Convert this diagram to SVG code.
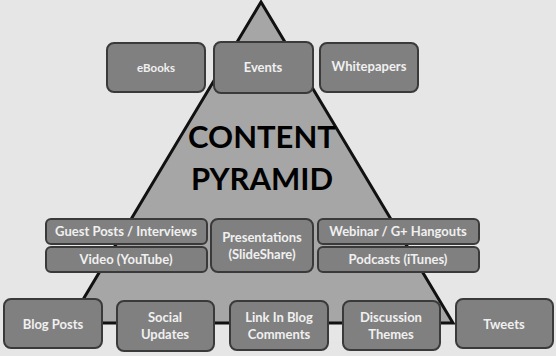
<svg xmlns="http://www.w3.org/2000/svg" width="556" height="356" viewBox="0 0 556 356">
<style>
.bx{fill:#808080;stroke:#3a3a3a;stroke-width:2}
.t{font-family:Lato,"Open Sans","Liberation Sans",sans-serif;font-weight:bold;fill:#f0f0f0;text-anchor:middle}
.s12{font-size:13px}
.s11{font-size:11.5px}
.big{font-family:Lato,"Open Sans","Liberation Sans",sans-serif;font-weight:bold;font-size:31px;fill:#000;text-anchor:middle}
</style>
<rect width="556" height="356" fill="#e6e6e6"/>
<g id="pyramid">
<polygon points="261,2 69,323 453,323" fill="#a6a6a6" stroke="#111" stroke-width="3" stroke-linejoin="miter"/>
<text class="big" x="262" y="148">CONTENT</text>
<text class="big" x="262" y="190">PYRAMID</text>
</g>
<g id="ebooks"><rect class="bx" x="107" y="43" width="98" height="49" rx="7"/><text class="t s11" x="156" y="72">eBooks</text></g>
<g id="events"><rect class="bx" x="214" y="42" width="99" height="51" rx="7"/><text class="t s12" x="263" y="72">Events</text></g>
<g id="whitepapers"><rect class="bx" x="320" y="43" width="98" height="49" rx="7"/><text class="t s12" x="369" y="71">Whitepapers</text></g>
<g id="guest"><rect class="bx" x="46" y="219" width="161" height="25" rx="5"/><text class="t s12" x="126" y="236">Guest Posts / Interviews</text></g>
<g id="video"><rect class="bx" x="46" y="247" width="161" height="25" rx="5"/><text class="t s12" x="126" y="264">Video (YouTube)</text></g>
<g id="presentations"><rect class="bx" x="211" y="219" width="102" height="53" rx="7"/><text class="t s12" x="262" y="242">Presentations</text><text class="t s12" x="262" y="259">(SlideShare)</text></g>
<g id="webinar"><rect class="bx" x="318" y="219" width="161" height="25" rx="5"/><text class="t s12" x="398" y="236">Webinar / G+ Hangouts</text></g>
<g id="podcasts"><rect class="bx" x="318" y="247" width="161" height="25" rx="5"/><text class="t s12" x="398" y="264">Podcasts (iTunes)</text></g>
<g id="blogposts"><rect class="bx" x="4" y="299" width="98" height="49" rx="7"/><text class="t s12" x="53" y="329">Blog Posts</text></g>
<g id="social"><rect class="bx" x="117" y="301" width="97" height="50" rx="7"/><text class="t s12" x="165" y="322">Social</text><text class="t s12" x="165" y="339">Updates</text></g>
<g id="linkin"><rect class="bx" x="230" y="301" width="98" height="49" rx="7"/><text class="t s12" x="279" y="322">Link In Blog</text><text class="t s12" x="279" y="339">Comments</text></g>
<g id="discussion"><rect class="bx" x="343" y="301" width="97" height="49" rx="7"/><text class="t s12" x="391" y="322">Discussion</text><text class="t s12" x="391" y="339">Themes</text></g>
<g id="tweets"><rect class="bx" x="456" y="299" width="97" height="49" rx="7"/><text class="t s12" x="504" y="329">Tweets</text></g>
</svg>
